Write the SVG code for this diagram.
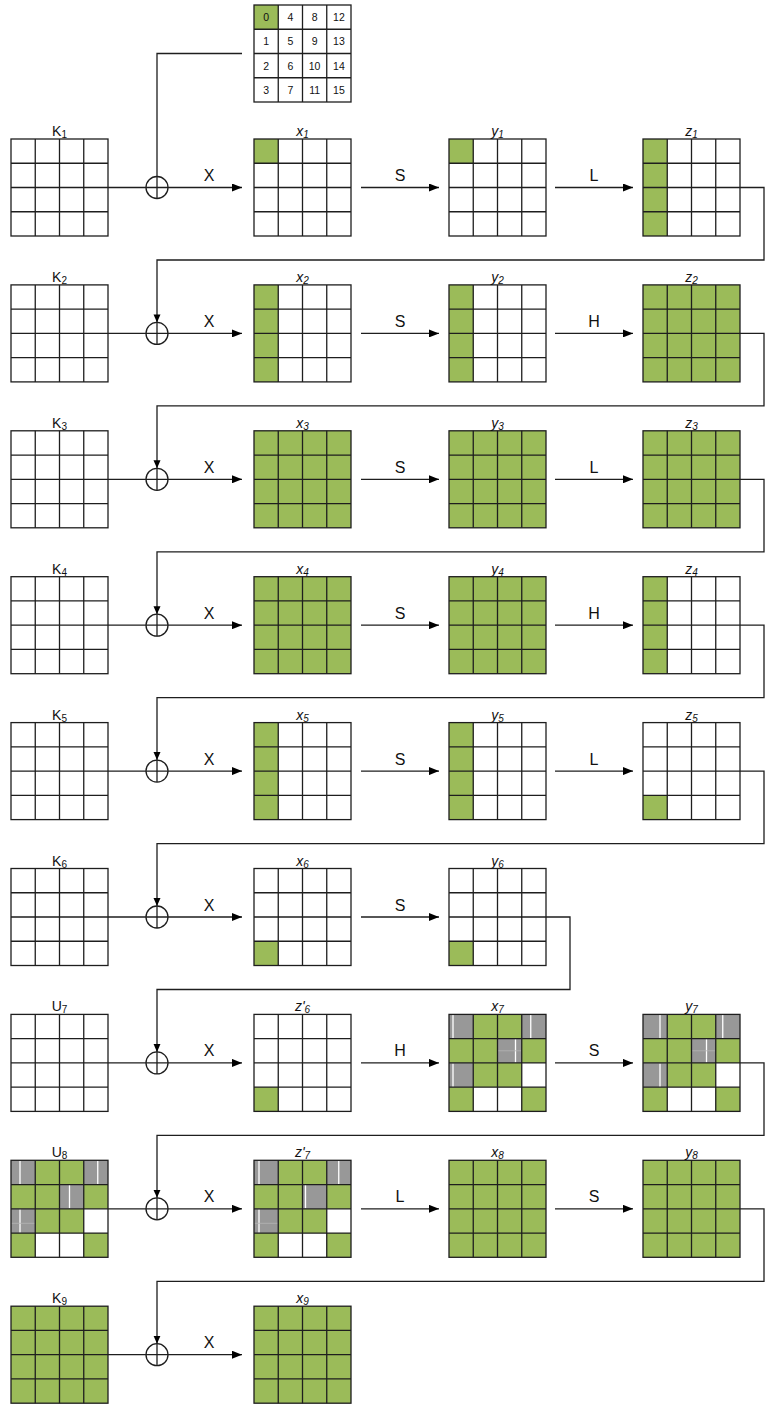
<svg xmlns="http://www.w3.org/2000/svg" xmlns:xlink="http://www.w3.org/1999/xlink" width="767" height="1406" viewBox="0 0 767 1406">
<style>
.bg{fill:#ffffff}
.g{fill:#9bbb59}
.gr{fill:#989898}
.wl{stroke:#ffffff;stroke-width:1.3}
.gl{fill:none;stroke:#1e1e1e;stroke-width:1.3}
.ln{fill:none;stroke:#1e1e1e;stroke-width:1.3}
.lbl{font-family:"Liberation Sans",Arial,sans-serif;font-size:14px;fill:#111;text-anchor:middle}
.it{font-style:italic}
.sub{font-size:10px;fill:#111}
.op{font-family:"Liberation Sans",Arial,sans-serif;font-size:16px;fill:#111;text-anchor:middle}
.num{font-family:"Liberation Sans",Arial,sans-serif;font-size:10.5px;fill:#111;text-anchor:middle}
</style>
<defs>
<g id="grid" class="gl"><rect x="0" y="0" width="97" height="97"/><path d="M24.25 0V97M48.5 0V97M72.75 0V97M0 24.25H97M0 48.5H97M0 72.75H97"/></g>
<rect id="col0" x="0" y="0" width="24.25" height="97" class="g"/>
<rect id="all" x="0" y="0" width="97" height="97" class="g"/>
<rect id="c00" x="0" y="0" width="24.25" height="24.25" class="g"/>
<rect id="c30" x="0" y="72.75" width="24.25" height="24.25" class="g"/>
<g id="mix">
<rect x="24.25" y="0" width="48.5" height="24.25" class="g"/>
<rect x="0" y="24.25" width="48.5" height="24.25" class="g"/>
<rect x="72.75" y="24.25" width="24.25" height="24.25" class="g"/>
<rect x="24.25" y="48.5" width="48.5" height="24.25" class="g"/>
<rect x="0" y="72.75" width="24.25" height="24.25" class="g"/>
<rect x="72.75" y="72.75" width="24.25" height="24.25" class="g"/>
<rect x="0" y="0" width="24.25" height="24.25" class="gr"/>
<rect x="72.75" y="0" width="24.25" height="24.25" class="gr"/>
<rect x="48.5" y="24.25" width="24.25" height="24.25" class="gr"/>
<rect x="0" y="48.5" width="24.25" height="24.25" class="gr"/>
</g>
<marker id="ah" markerUnits="userSpaceOnUse" markerWidth="10" markerHeight="8" refX="10" refY="4" orient="auto"><path d="M0,0 L10,4 L0,8 z" fill="#000"/></marker>
<marker id="ahs" markerUnits="userSpaceOnUse" markerWidth="8" markerHeight="8" refX="8" refY="4" orient="auto"><path d="M0,0.5 L8,4 L0,7.5 z" fill="#000"/></marker>
</defs>

<g id="index" transform="translate(254,5)">
<rect class="bg" width="97" height="97"/>
<use href="#c00"/>
<use href="#grid"/>
<text class="num" x="12.1" y="16">0</text><text class="num" x="36.4" y="16">4</text><text class="num" x="60.6" y="16">8</text><text class="num" x="84.9" y="16">12</text>
<text class="num" x="12.1" y="40.3">1</text><text class="num" x="36.4" y="40.3">5</text><text class="num" x="60.6" y="40.3">9</text><text class="num" x="84.9" y="40.3">13</text>
<text class="num" x="12.1" y="64.5">2</text><text class="num" x="36.4" y="64.5">6</text><text class="num" x="60.6" y="64.5">10</text><text class="num" x="84.9" y="64.5">14</text>
<text class="num" x="12.1" y="88.8">3</text><text class="num" x="36.4" y="88.8">7</text><text class="num" x="60.6" y="88.8">11</text><text class="num" x="84.9" y="88.8">15</text>
</g>

<!-- Row 1 -->
<g id="K1" transform="translate(11,139)"><rect class="bg" width="97" height="97"/><use href="#grid"/><text class="lbl" x="48.5" y="-3">K<tspan class="sub" dy="2">1</tspan></text></g>
<g id="x1" transform="translate(254,139)"><rect class="bg" width="97" height="97"/><use href="#c00"/><use href="#grid"/><text class="lbl it" x="48.5" y="-3">x<tspan class="sub" dy="2">1</tspan></text></g>
<g id="y1" transform="translate(449,139)"><rect class="bg" width="97" height="97"/><use href="#c00"/><use href="#grid"/><text class="lbl it" x="48.5" y="-3">y<tspan class="sub" dy="2">1</tspan></text></g>
<g id="z1" transform="translate(643,139)"><rect class="bg" width="97" height="97"/><use href="#col0"/><use href="#grid"/><text class="lbl it" x="48.5" y="-3">z<tspan class="sub" dy="2">1</tspan></text></g>

<!-- Row 2 -->
<g id="K2" transform="translate(11,284.9)"><rect class="bg" width="97" height="97"/><use href="#grid"/><text class="lbl" x="48.5" y="-3">K<tspan class="sub" dy="2">2</tspan></text></g>
<g id="x2" transform="translate(254,284.9)"><rect class="bg" width="97" height="97"/><use href="#col0"/><use href="#grid"/><text class="lbl it" x="48.5" y="-3">x<tspan class="sub" dy="2">2</tspan></text></g>
<g id="y2" transform="translate(449,284.9)"><rect class="bg" width="97" height="97"/><use href="#col0"/><use href="#grid"/><text class="lbl it" x="48.5" y="-3">y<tspan class="sub" dy="2">2</tspan></text></g>
<g id="z2" transform="translate(643,284.9)"><rect class="bg" width="97" height="97"/><use href="#all"/><use href="#grid"/><text class="lbl it" x="48.5" y="-3">z<tspan class="sub" dy="2">2</tspan></text></g>

<!-- Row 3 -->
<g id="K3" transform="translate(11,430.8)"><rect class="bg" width="97" height="97"/><use href="#grid"/><text class="lbl" x="48.5" y="-3">K<tspan class="sub" dy="2">3</tspan></text></g>
<g id="x3" transform="translate(254,430.8)"><rect class="bg" width="97" height="97"/><use href="#all"/><use href="#grid"/><text class="lbl it" x="48.5" y="-3">x<tspan class="sub" dy="2">3</tspan></text></g>
<g id="y3" transform="translate(449,430.8)"><rect class="bg" width="97" height="97"/><use href="#all"/><use href="#grid"/><text class="lbl it" x="48.5" y="-3">y<tspan class="sub" dy="2">3</tspan></text></g>
<g id="z3" transform="translate(643,430.8)"><rect class="bg" width="97" height="97"/><use href="#all"/><use href="#grid"/><text class="lbl it" x="48.5" y="-3">z<tspan class="sub" dy="2">3</tspan></text></g>

<!-- Row 4 -->
<g id="K4" transform="translate(11,576.7)"><rect class="bg" width="97" height="97"/><use href="#grid"/><text class="lbl" x="48.5" y="-3">K<tspan class="sub" dy="2">4</tspan></text></g>
<g id="x4" transform="translate(254,576.7)"><rect class="bg" width="97" height="97"/><use href="#all"/><use href="#grid"/><text class="lbl it" x="48.5" y="-3">x<tspan class="sub" dy="2">4</tspan></text></g>
<g id="y4" transform="translate(449,576.7)"><rect class="bg" width="97" height="97"/><use href="#all"/><use href="#grid"/><text class="lbl it" x="48.5" y="-3">y<tspan class="sub" dy="2">4</tspan></text></g>
<g id="z4" transform="translate(643,576.7)"><rect class="bg" width="97" height="97"/><use href="#col0"/><use href="#grid"/><text class="lbl it" x="48.5" y="-3">z<tspan class="sub" dy="2">4</tspan></text></g>

<!-- Row 5 -->
<g id="K5" transform="translate(11,722.6)"><rect class="bg" width="97" height="97"/><use href="#grid"/><text class="lbl" x="48.5" y="-3">K<tspan class="sub" dy="2">5</tspan></text></g>
<g id="x5" transform="translate(254,722.6)"><rect class="bg" width="97" height="97"/><use href="#col0"/><use href="#grid"/><text class="lbl it" x="48.5" y="-3">x<tspan class="sub" dy="2">5</tspan></text></g>
<g id="y5" transform="translate(449,722.6)"><rect class="bg" width="97" height="97"/><use href="#col0"/><use href="#grid"/><text class="lbl it" x="48.5" y="-3">y<tspan class="sub" dy="2">5</tspan></text></g>
<g id="z5" transform="translate(643,722.6)"><rect class="bg" width="97" height="97"/><use href="#c30"/><use href="#grid"/><text class="lbl it" x="48.5" y="-3">z<tspan class="sub" dy="2">5</tspan></text></g>

<!-- Row 6 -->
<g id="K6" transform="translate(11,868.5)"><rect class="bg" width="97" height="97"/><use href="#grid"/><text class="lbl" x="48.5" y="-3">K<tspan class="sub" dy="2">6</tspan></text></g>
<g id="x6" transform="translate(254,868.5)"><rect class="bg" width="97" height="97"/><use href="#c30"/><use href="#grid"/><text class="lbl it" x="48.5" y="-3">x<tspan class="sub" dy="2">6</tspan></text></g>
<g id="y6" transform="translate(449,868.5)"><rect class="bg" width="97" height="97"/><use href="#c30"/><use href="#grid"/><text class="lbl it" x="48.5" y="-3">y<tspan class="sub" dy="2">6</tspan></text></g>

<!-- Row 7 -->
<g id="U7" transform="translate(11,1014.4)"><rect class="bg" width="97" height="97"/><use href="#grid"/><text class="lbl" x="48.5" y="-3">U<tspan class="sub" dy="2">7</tspan></text></g>
<g id="zp6" transform="translate(254,1014.4)"><rect class="bg" width="97" height="97"/><use href="#c30"/><use href="#grid"/><text class="lbl it" x="48.5" y="-3">z'<tspan class="sub" dy="2">6</tspan></text></g>
<g id="x7" transform="translate(449,1014.4)"><rect class="bg" width="97" height="97"/><use href="#mix"/>
<path class="wl" d="M4 0.5V24M81.75 0.5V24M66.5 24.75V48M4 49V72.5"/><path d="M48.5 36.4H72.75" stroke="#b5b5b5" stroke-width="0.8"/>
<use href="#grid"/><text class="lbl it" x="48.5" y="-3">x<tspan class="sub" dy="2">7</tspan></text></g>
<g id="y7" transform="translate(643,1014.4)"><rect class="bg" width="97" height="97"/><use href="#mix"/>
<path class="wl" d="M17 0.5V24M79.75 0.5V24M63.5 24.75V48M17 49V72.5"/><path d="M48.5 36.4H72.75" stroke="#b5b5b5" stroke-width="0.8"/>
<use href="#grid"/><text class="lbl it" x="48.5" y="-3">y<tspan class="sub" dy="2">7</tspan></text></g>

<!-- Row 8 -->
<g id="U8" transform="translate(11,1160.3)"><rect class="bg" width="97" height="97"/><use href="#mix"/>
<path class="wl" d="M9 0.5V24M86.75 0.5V24M58.5 24.75V48M9 49V72.5"/><path d="M0 63H24.25" stroke="#b5b5b5" stroke-width="0.8"/>
<use href="#grid"/><text class="lbl" x="48.5" y="-3">U<tspan class="sub" dy="2">8</tspan></text></g>
<g id="zp7" transform="translate(254,1160.3)"><rect class="bg" width="97" height="97"/><use href="#mix"/>
<path class="wl" d="M5 0.5V24M84.75 0.5V24M51.5 24.75V48M5 49V72.5"/><path d="M0 63H24.25" stroke="#b5b5b5" stroke-width="0.8"/>
<use href="#grid"/><text class="lbl it" x="48.5" y="-3">z'<tspan class="sub" dy="2">7</tspan></text></g>
<g id="x8" transform="translate(449,1160.3)"><rect class="bg" width="97" height="97"/><use href="#all"/><use href="#grid"/><text class="lbl it" x="48.5" y="-3">x<tspan class="sub" dy="2">8</tspan></text></g>
<g id="y8" transform="translate(643,1160.3)"><rect class="bg" width="97" height="97"/><use href="#all"/><use href="#grid"/><text class="lbl it" x="48.5" y="-3">y<tspan class="sub" dy="2">8</tspan></text></g>

<!-- Row 9 -->
<g id="K9" transform="translate(11,1306.2)"><rect class="bg" width="97" height="97"/><use href="#all"/><use href="#grid"/><text class="lbl" x="48.5" y="-3">K<tspan class="sub" dy="2">9</tspan></text></g>
<g id="x9" transform="translate(254,1306.2)"><rect class="bg" width="97" height="97"/><use href="#all"/><use href="#grid"/><text class="lbl it" x="48.5" y="-3">x<tspan class="sub" dy="2">9</tspan></text></g>

<g id="connectors">
<path class="ln" d="M242,53.5 H157 V176.5"/>
<path class="ln" marker-end="url(#ahs)" d="M740,187.5 H764 V260 H157 V322.4"/>
<path class="ln" marker-end="url(#ahs)" d="M740,333.4 H764 V405.9 H157 V468.3"/>
<path class="ln" marker-end="url(#ahs)" d="M740,479.3 H764 V551.8 H157 V614.2"/>
<path class="ln" marker-end="url(#ahs)" d="M740,625.2 H764 V697.7 H157 V760.1"/>
<path class="ln" marker-end="url(#ahs)" d="M740,771.1 H764 V843.6 H157 V906"/>
<path class="ln" marker-end="url(#ahs)" d="M546,917 H570 V989.5 H157 V1051.9"/>
<path class="ln" marker-end="url(#ahs)" d="M740,1062.9 H764 V1135.4 H157 V1197.8"/>
<path class="ln" marker-end="url(#ahs)" d="M740,1208.8 H764 V1281.3 H157 V1343.7"/>

<g id="xor1"><circle class="ln" cx="157" cy="187.5" r="11"/><path class="ln" d="M157,176.5V198.5"/><path class="ln" marker-end="url(#ah)" d="M108,187.5H242"/></g>
<g id="xor2"><circle class="ln" cx="157" cy="333.4" r="11"/><path class="ln" d="M157,322.4V344.4"/><path class="ln" marker-end="url(#ah)" d="M108,333.4H242"/></g>
<g id="xor3"><circle class="ln" cx="157" cy="479.3" r="11"/><path class="ln" d="M157,468.3V490.3"/><path class="ln" marker-end="url(#ah)" d="M108,479.3H242"/></g>
<g id="xor4"><circle class="ln" cx="157" cy="625.2" r="11"/><path class="ln" d="M157,614.2V636.2"/><path class="ln" marker-end="url(#ah)" d="M108,625.2H242"/></g>
<g id="xor5"><circle class="ln" cx="157" cy="771.1" r="11"/><path class="ln" d="M157,760.1V782.1"/><path class="ln" marker-end="url(#ah)" d="M108,771.1H242"/></g>
<g id="xor6"><circle class="ln" cx="157" cy="917" r="11"/><path class="ln" d="M157,906V928"/><path class="ln" marker-end="url(#ah)" d="M108,917H242"/></g>
<g id="xor7"><circle class="ln" cx="157" cy="1062.9" r="11"/><path class="ln" d="M157,1051.9V1073.9"/><path class="ln" marker-end="url(#ah)" d="M108,1062.9H242"/></g>
<g id="xor8"><circle class="ln" cx="157" cy="1208.8" r="11"/><path class="ln" d="M157,1197.8V1219.8"/><path class="ln" marker-end="url(#ah)" d="M108,1208.8H242"/></g>
<g id="xor9"><circle class="ln" cx="157" cy="1354.7" r="11"/><path class="ln" d="M157,1343.7V1365.7"/><path class="ln" marker-end="url(#ah)" d="M108,1354.7H242"/></g>

<path class="ln" marker-end="url(#ah)" d="M361,187.5H439"/><path class="ln" marker-end="url(#ah)" d="M555,187.5H633"/>
<path class="ln" marker-end="url(#ah)" d="M361,333.4H439"/><path class="ln" marker-end="url(#ah)" d="M555,333.4H633"/>
<path class="ln" marker-end="url(#ah)" d="M361,479.3H439"/><path class="ln" marker-end="url(#ah)" d="M555,479.3H633"/>
<path class="ln" marker-end="url(#ah)" d="M361,625.2H439"/><path class="ln" marker-end="url(#ah)" d="M555,625.2H633"/>
<path class="ln" marker-end="url(#ah)" d="M361,771.1H439"/><path class="ln" marker-end="url(#ah)" d="M555,771.1H633"/>
<path class="ln" marker-end="url(#ah)" d="M361,917H439"/>
<path class="ln" marker-end="url(#ah)" d="M361,1062.9H439"/><path class="ln" marker-end="url(#ah)" d="M555,1062.9H633"/>
<path class="ln" marker-end="url(#ah)" d="M361,1208.8H439"/><path class="ln" marker-end="url(#ah)" d="M555,1208.8H633"/>

<text class="op" x="209" y="181">X</text><text class="op" x="400" y="181">S</text><text class="op" x="594" y="181">L</text>
<text class="op" x="209" y="326.9">X</text><text class="op" x="400" y="326.9">S</text><text class="op" x="594" y="326.9">H</text>
<text class="op" x="209" y="472.8">X</text><text class="op" x="400" y="472.8">S</text><text class="op" x="594" y="472.8">L</text>
<text class="op" x="209" y="618.7">X</text><text class="op" x="400" y="618.7">S</text><text class="op" x="594" y="618.7">H</text>
<text class="op" x="209" y="764.6">X</text><text class="op" x="400" y="764.6">S</text><text class="op" x="594" y="764.6">L</text>
<text class="op" x="209" y="910.5">X</text><text class="op" x="400" y="910.5">S</text>
<text class="op" x="209" y="1056.4">X</text><text class="op" x="400" y="1056.4">H</text><text class="op" x="594" y="1056.4">S</text>
<text class="op" x="209" y="1202.3">X</text><text class="op" x="400" y="1202.3">L</text><text class="op" x="594" y="1202.3">S</text>
<text class="op" x="209" y="1348.2">X</text>
</g>
</svg>
